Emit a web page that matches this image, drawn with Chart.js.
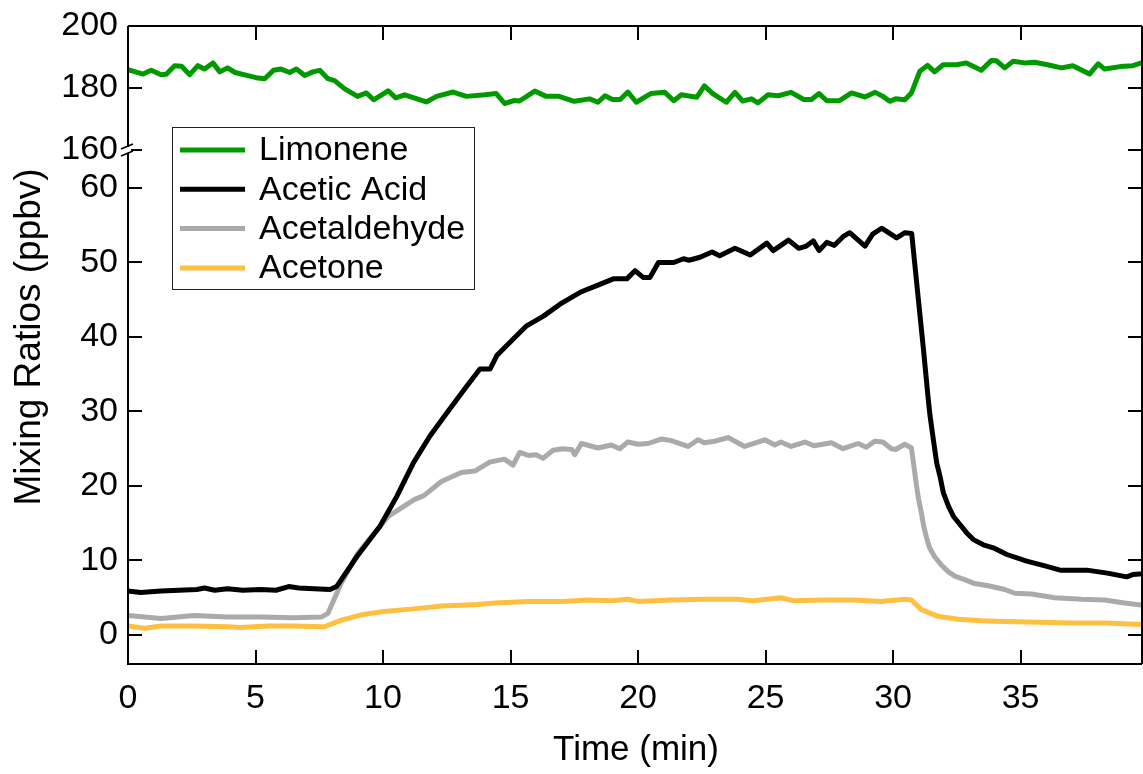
<!DOCTYPE html>
<html>
<head>
<meta charset="utf-8">
<title>Mixing Ratios</title>
<script src="https://cdn.jsdelivr.net/npm/chart.js@4.4.1/dist/chart.umd.min.js"></script>
<style>
  html, body { margin: 0; padding: 0; background: #fff; }
</style>
</head>
<body>
<canvas id="mixChart" width="1143" height="774"></canvas>
<script>
// values (time in min, mixing ratio in ppbv)
const limoneneTime = [0, 0.59, 0.91, 1.3, 1.5, 1.83, 2.1, 2.42, 2.74, 3.0, 3.33, 3.6, 3.9, 4.2, 4.7, 5.1, 5.36, 5.7, 6.0, 6.34,
  6.6, 6.93, 7.25, 7.52, 7.84, 8.1, 8.5, 9.0, 9.35, 9.63, 10.2, 10.5, 10.85, 11.7, 12.1, 12.75, 13.27, 14.0, 14.44, 14.77,
  15.16, 15.35, 15.95, 16.4, 16.9, 17.5, 18.1, 18.43, 18.7, 19.0, 19.3, 19.6, 19.93, 20.5, 21.05, 21.4, 21.7, 22.3, 22.6, 22.93,
  23.46, 23.8, 24.1, 24.45, 24.7, 25.1, 25.5, 26.0, 26.5, 26.8, 27.1, 27.4, 27.9, 28.37, 28.9, 29.3, 29.6, 29.87, 30.1, 30.46,
  30.72, 31.05, 31.35, 31.63, 31.96, 32.5, 32.87, 33.46, 33.86, 34.05, 34.38, 34.7, 35.16, 35.55, 36.06, 36.6, 37.05, 37.7, 38.04, 38.3,
  38.9, 39.4, 39.8];
const limoneneVals = [185.9, 184.5, 185.7, 184.3, 184.4, 187.2, 187.0, 184.3, 187.2, 186.1, 188.1, 185.2, 186.5, 185.0, 184.0, 183.2, 183.0, 185.7, 186.1, 185.0,
  186.1, 184.0, 185.2, 185.7, 183.0, 182.4, 179.7, 177.3, 178.4, 176.2, 179.1, 176.8, 177.8, 175.5, 177.3, 178.7, 177.3, 177.8, 178.2, 175.0,
  176.0, 175.8, 179.0, 177.3, 177.3, 175.7, 176.5, 175.4, 177.5, 176.3, 176.3, 178.7, 175.4, 178.2, 178.6, 175.9, 177.8, 177.0, 180.7, 178.2,
  175.4, 178.6, 175.8, 176.5, 175.2, 177.8, 177.5, 178.6, 176.3, 176.3, 178.2, 175.9, 175.9, 178.4, 177.1, 178.6, 177.3, 175.7, 176.5, 176.2,
  178.4, 185.4, 187.3, 185.2, 187.5, 187.5, 188.1, 185.7, 188.9, 188.8, 186.5, 188.6, 188.1, 188.3, 187.5, 186.5, 187.2, 184.5, 187.8, 186.1,
  186.9, 187.2, 188.3];

const aceticTime = [0, 0.5, 1.3, 2.0, 2.7, 3.0, 3.4, 3.9, 4.5, 5.2, 5.8, 6.3, 6.7, 7.3, 7.92, 8.18, 8.97, 9.88, 10.54, 11.19,
  11.84, 12.5, 13.28, 13.8, 14.2, 14.46, 14.98, 15.63, 16.29, 16.94, 17.73, 18.38, 19.03, 19.56, 19.88, 20.2, 20.47, 20.8, 21.4, 21.78,
  22.0, 22.43, 22.9, 23.2, 23.8, 24.4, 25.05, 25.3, 25.9, 26.3, 26.6, 26.87, 27.1, 27.4, 27.7, 28.05, 28.3, 28.9, 29.2, 29.55,
  30.14, 30.47, 30.73, 30.99, 31.19, 31.38, 31.45, 31.58, 31.71, 31.84, 31.97, 32.17, 32.37, 32.63, 32.89, 33.15, 33.54, 33.93, 34.46, 35.24,
  36.03, 36.55, 37.6, 38.4, 39.16, 39.4, 39.8];
const aceticVals = [5.9, 5.7, 5.9, 6.0, 6.1, 6.3, 6.0, 6.2, 6.0, 6.1, 6.0, 6.5, 6.3, 6.2, 6.1, 6.5, 10.5, 14.6, 18.6, 23.1,
  26.7, 29.8, 33.4, 35.7, 35.7, 37.5, 39.3, 41.5, 42.8, 44.4, 46.0, 46.9, 47.8, 47.8, 48.9, 48.0, 48.0, 50.0, 50.0, 50.5,
  50.3, 50.7, 51.4, 50.9, 51.9, 51.0, 52.6, 51.6, 53.0, 51.9, 52.2, 52.9, 51.6, 52.7, 52.3, 53.5, 54.0, 52.2, 53.8, 54.6,
  53.3, 54.0, 53.9, 45.1, 38.4, 31.6, 29.4, 26.2, 23.1, 21.3, 19.1, 17.3, 15.9, 14.8, 13.7, 12.8, 12.1, 11.7, 10.8, 9.9,
  9.2, 8.7, 8.7, 8.3, 7.8, 8.1, 8.2];

const acetaldTime = [0, 1.3, 2.6, 3.9, 5.2, 6.5, 7.58, 7.84, 8.37, 9.02, 9.67, 10.2, 10.6, 11.24, 11.6, 12.29, 13.07, 13.6, 14.18, 14.76,
  15.1, 15.36, 15.7, 16.0, 16.27, 16.67, 17.05, 17.4, 17.52, 17.78, 18.0, 18.43, 18.95, 19.28, 19.6, 20.0, 20.4, 20.9, 21.3, 21.96,
  22.35, 22.6, 23.0, 23.53, 24.18, 24.97, 25.36, 25.6, 26.0, 26.54, 26.9, 27.58, 28.04, 28.63, 28.95, 29.28, 29.6, 29.93, 30.1, 30.46,
  30.72, 30.92, 31.0, 31.11, 31.2, 31.3, 31.43, 31.63, 31.89, 32.16, 32.42, 32.75, 33.2, 33.73, 34.38, 34.77, 35.43, 36.34, 37.38, 38.3,
  39.08, 39.8];
const acetaldVals = [2.6, 2.2, 2.6, 2.4, 2.4, 2.3, 2.4, 2.9, 7.0, 11.0, 13.7, 15.9, 16.8, 18.2, 18.7, 20.6, 21.8, 22.0, 23.2, 23.6,
  22.8, 24.5, 24.1, 24.2, 23.7, 24.8, 25.0, 24.9, 24.2, 25.7, 25.5, 25.1, 25.5, 25.0, 25.9, 25.6, 25.7, 26.3, 26.1, 25.3,
  26.2, 25.8, 26.0, 26.5, 25.3, 26.2, 25.5, 25.9, 25.3, 25.9, 25.4, 25.8, 25.0, 25.7, 25.2, 26.0, 25.9, 25.0, 24.9, 25.6,
  25.1, 20.0, 18.2, 16.4, 14.6, 13.2, 11.7, 10.5, 9.4, 8.5, 7.9, 7.5, 6.9, 6.6, 6.1, 5.6, 5.5, 5.0, 4.8, 4.7,
  4.3, 4.0];

const acetoneTime = [0, 0.65, 1.3, 2.6, 3.9, 4.4, 5.5, 6.5, 7.7, 8.37, 9.15, 9.93, 10.85, 11.5, 12.29, 13.07, 13.7, 14.38, 15.7, 17.0,
  18.04, 18.95, 19.6, 20.0, 21.3, 22.6, 23.9, 24.5, 25.6, 26.1, 27.2, 28.5, 29.5, 30.46, 30.72, 31.11, 31.76, 32.55, 33.46, 34.38,
  35.7, 37.0, 38.3, 39.8];
const acetoneVals = [1.2, 0.9, 1.2, 1.2, 1.1, 1.0, 1.2, 1.2, 1.1, 2.0, 2.7, 3.1, 3.4, 3.6, 3.9, 4.0, 4.1, 4.3, 4.5, 4.5,
  4.7, 4.6, 4.8, 4.5, 4.7, 4.8, 4.8, 4.6, 5.0, 4.6, 4.7, 4.7, 4.5, 4.8, 4.7, 3.4, 2.5, 2.1, 1.9, 1.8,
  1.7, 1.6, 1.6, 1.4];

const seriesNames = ['Limonene', 'Acetic Acid', 'Acetaldehyde', 'Acetone'];
const seriesColors = ['#009a00', '#000000', '#aaaaaa', '#ffbf40'];

const FONT = "'Liberation Sans', Arial, sans-serif";

function pts(ts, vs) {
  if (ts.length !== vs.length) console.warn('length mismatch', ts.length, vs.length);
  return ts.map((t, i) => ({ x: t, y: vs[i] }));
}

function ds(i, data, axis) {
  return {
    label: seriesNames[i],
    data: data,
    yAxisID: axis,
    borderColor: seriesColors[i],
    backgroundColor: seriesColors[i],
    borderWidth: 5,
    pointRadius: 0,
    tension: 0,
    borderJoinStyle: 'round',
    borderCapStyle: 'round'
  };
}

// axis frame, inward ticks, axis break, legend box and titles
const framePlugin = {
  id: 'frame',
  afterDraw(chart) {
    const { ctx, chartArea: a, scales } = chart;
    const xs = scales.x, yb = scales.yBot, yt = scales.yTop;
    const R = a.right - 1;
    const TL = 14;
    ctx.save();
    ctx.strokeStyle = '#000';
    ctx.lineWidth = 2;
    ctx.lineCap = 'butt';
    ctx.beginPath();
    ctx.moveTo(a.left, a.top); ctx.lineTo(R, a.top);
    ctx.moveTo(R, a.top); ctx.lineTo(R, a.bottom);
    ctx.moveTo(a.left - 1, a.bottom); ctx.lineTo(R, a.bottom);
    ctx.moveTo(a.left, a.top); ctx.lineTo(a.left, a.bottom);
    // x ticks, bottom and top
    xs.ticks.forEach(t => {
      const px = Math.round(xs.getPixelForValue(t.value));
      ctx.moveTo(px, a.bottom); ctx.lineTo(px, a.bottom - TL);
      ctx.moveTo(px, a.top); ctx.lineTo(px, a.top + TL);
    });
    // y ticks, left and right
    [yt, yb].forEach(s => {
      s.ticks.forEach(t => {
        const py = Math.round(s.getPixelForValue(t.value));
        ctx.moveTo(a.left, py); ctx.lineTo(a.left + TL, py);
        ctx.moveTo(R, py); ctx.lineTo(R - TL, py);
      });
    });
    ctx.stroke();

    // axis break marks
    const by = yt.bottom;
    ctx.fillStyle = '#fff';
    ctx.fillRect(a.left - 2, by - 3, 5, 6);
    ctx.beginPath();
    ctx.lineWidth = 1.5;
    ctx.moveTo(a.left - 7, by - 1); ctx.lineTo(a.left + 5, by - 6);
    ctx.moveTo(a.left - 7, by + 6); ctx.lineTo(a.left + 5, by + 1);
    ctx.stroke();

    // legend
    const lx = 172, ly = 127, lw = 302, lh = 162;
    ctx.lineWidth = 1;
    ctx.strokeStyle = '#222';
    ctx.fillStyle = '#fff';
    ctx.fillRect(lx, ly, lw, lh);
    ctx.strokeRect(lx + 0.5, ly + 0.5, lw, lh);
    ctx.font = '34px ' + FONT;
    ctx.textBaseline = 'middle';
    ctx.textAlign = 'left';
    chart.data.datasets.forEach((d, i) => {
      const rowY = 150 + i * 39.3;
      ctx.strokeStyle = d.borderColor;
      ctx.lineWidth = 5;
      ctx.beginPath();
      ctx.moveTo(180, rowY); ctx.lineTo(245, rowY);
      ctx.stroke();
      ctx.fillStyle = '#000';
      ctx.fillText(d.label, 259, rowY + 1);
    });

    // axis titles
    ctx.font = '35px ' + FONT;
    ctx.fillStyle = '#000';
    ctx.textAlign = 'center';
    ctx.textBaseline = 'middle';
    ctx.fillText('Time (min)', 636, 750);
    ctx.save();
    ctx.translate(30, 337);
    ctx.rotate(-Math.PI / 2);
    ctx.font = '37px ' + FONT;
    ctx.fillText('Mixing Ratios (ppbv)', 0, 0);
    ctx.restore();
    ctx.restore();
  }
};

const tickFont = { family: FONT, size: 34 };

function fixY(s) { s.width = 128; s.paddingTop = 0; s.paddingBottom = 0; }

new Chart(document.getElementById('mixChart'), {
  type: 'line',
  data: {
    datasets: [
      ds(0, pts(limoneneTime, limoneneVals), 'yTop'),
      ds(1, pts(aceticTime, aceticVals), 'yBot'),
      ds(2, pts(acetaldTime, acetaldVals), 'yBot'),
      ds(3, pts(acetoneTime, acetoneVals), 'yBot')
    ]
  },
  options: {
    responsive: false,
    animation: false,
    events: [],
    layout: { padding: { top: 26, right: 0, left: 0, bottom: 0 } },
    plugins: { legend: { display: false }, tooltip: { enabled: false } },
    scales: {
      x: {
        type: 'linear',
        min: 0, max: 39.8,
        grid: { display: false, drawTicks: false },
        border: { display: false },
        ticks: { stepSize: 5, includeBounds: false, color: '#000', font: tickFont, padding: 14, maxRotation: 0, autoSkip: false },
        afterFit(s) { s.height = 110; s.paddingLeft = 0; s.paddingRight = 0; }
      },
      yBot: {
        type: 'linear',
        position: 'left',
        stack: 'mix',
        stackWeight: 514,
        min: -3.9, max: 65.1,
        grid: { display: false, drawTicks: false },
        border: { display: false },
        ticks: { stepSize: 10, includeBounds: false, color: '#000', font: tickFont, padding: 10, autoSkip: false },
        afterFit: fixY
      },
      yTop: {
        type: 'linear',
        position: 'left',
        stack: 'mix',
        stackWeight: 124,
        min: 160, max: 200,
        grid: { display: false, drawTicks: false },
        border: { display: false },
        ticks: { stepSize: 20, includeBounds: false, color: '#000', font: tickFont, padding: 10, autoSkip: false },
        afterFit: fixY
      }
    }
  },
  plugins: [framePlugin]
});
</script>
</body>
</html>
